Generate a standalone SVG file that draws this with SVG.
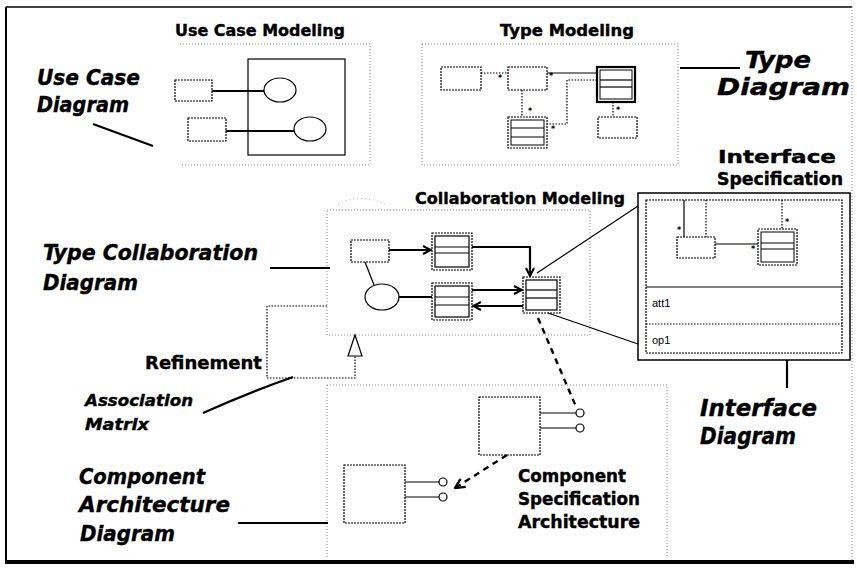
<svg xmlns="http://www.w3.org/2000/svg" width="857" height="569" viewBox="0 0 857 569">
  <style>
    .lbl { font-family: "DejaVu Sans", "Liberation Sans", sans-serif; font-weight: bold; fill: #000; stroke: #000; stroke-width: 0.4; }
    .it { font-style: italic; }
    .small { font-family: "Liberation Sans", sans-serif; font-size: 11px; fill: #000; }
    .frame { fill: none; stroke: #888; stroke-width: 1; stroke-dasharray: 1 2; }
    .box { fill: #fff; stroke: #000; stroke-width: 1.2; }
    .dbox { fill: #fff; stroke: #000; stroke-width: 1.2; stroke-dasharray: 2 1; }
    .wire { fill: none; stroke: #000; stroke-width: 1.2; }
    .thick { fill: none; stroke: #000; stroke-width: 2.2; }
    .dotw { fill: none; stroke: #000; stroke-width: 1.2; stroke-dasharray: 1.5 1.5; }
    .dash { fill: none; stroke: #000; stroke-width: 2.4; stroke-dasharray: 6 5; }
    .lead { fill: none; stroke: #000; stroke-width: 2.2; }
    .thin { fill: none; stroke: #000; stroke-width: 1; }
    .star { font-family: "DejaVu Sans", sans-serif; font-size: 8px; font-weight: bold; fill: #000; }
  </style>
  <defs>
    <marker id="vhead" viewBox="0 0 10 10" refX="9" refY="5" markerWidth="10" markerHeight="10" markerUnits="userSpaceOnUse" orient="auto">
      <path d="M1,1 L9,5 L1,9" fill="none" stroke="#000" stroke-width="2"/>
    </marker>
    <marker id="vhead2" viewBox="0 0 10 10" refX="9" refY="5" markerWidth="12" markerHeight="12" markerUnits="userSpaceOnUse" orient="auto">
      <path d="M1,1 L9,5 L1,9" fill="none" stroke="#000" stroke-width="2"/>
    </marker>
  </defs>

  <rect width="857" height="569" fill="#fff"/>

  <!-- page border -->
  <g id="page-border">
    <line x1="6" y1="7" x2="852" y2="7" stroke="#000" stroke-width="1.5"/>
    <line x1="6" y1="7" x2="6" y2="564" stroke="#000" stroke-width="2"/>
    <line x1="6" y1="562" x2="854" y2="562" stroke="#000" stroke-width="4"/>
    <line x1="852" y1="7" x2="852" y2="562" class="frame"/>
  </g>

  <!-- Use Case Modeling -->
  <g id="use-case-modeling">
    <text class="lbl" x="260" y="36" font-size="16" text-anchor="middle" textLength="170" lengthAdjust="spacingAndGlyphs">Use Case Modeling</text>
    <path class="frame" d="M180,44 H370 V165 H180"/>
    <rect class="box" x="248" y="59" width="97" height="96"/>
    <rect class="dbox" x="175" y="80" width="37" height="21"/>
    <rect class="dbox" x="188" y="118" width="38" height="23"/>
    <ellipse class="box" cx="280" cy="90" rx="16" ry="12"/>
    <ellipse class="box" cx="310" cy="129" rx="16" ry="12"/>
    <line class="thick" x1="212" y1="91" x2="264" y2="91"/>
    <line class="thick" x1="226" y1="131" x2="294" y2="131"/>
  </g>

  <!-- Type Modeling -->
  <g id="type-modeling">
    <text class="lbl" x="567" y="36" font-size="16" text-anchor="middle" textLength="134" lengthAdjust="spacingAndGlyphs">Type Modeling</text>
    <path class="frame" d="M422,44 H678 V165 H422 Z"/>
    <rect class="dbox" x="441" y="67" width="40" height="23"/>
    <rect class="dbox" x="508" y="67" width="39" height="23"/>
    <line class="dotw" x1="481" y1="73" x2="508" y2="73"/>
    <text class="star" x="498" y="81">*</text>
    <line class="wire" x1="547" y1="73" x2="597" y2="73"/>
    <text class="star" x="549" y="79">*</text>
    <rect x="597" y="67" width="38" height="35" fill="#fff" stroke="#000" stroke-width="2.2"/>
    <rect class="thin" x="600" y="70" width="32" height="29"/>
    <line class="wire" x1="600" y1="80" x2="632" y2="80"/>
    <line class="wire" x1="600" y1="87" x2="632" y2="87"/>
    <path class="dotw" d="M597,80 H567 V124 H547"/>
    <text class="star" x="551" y="132">*</text>
    <rect class="dbox" x="508" y="117" width="39" height="31"/>
    <rect class="thin" x="511" y="120" width="33" height="25"/>
    <line class="wire" x1="511" y1="128" x2="544" y2="128"/>
    <line class="wire" x1="511" y1="137" x2="544" y2="137"/>
    <line class="dotw" x1="522" y1="90" x2="522" y2="117"/>
    <text class="star" x="528" y="114">*</text>
    <rect class="dbox" x="598" y="117" width="39" height="21"/>
    <line class="dotw" x1="613" y1="102" x2="613" y2="117"/>
    <text class="star" x="616" y="113">*</text>
  </g>

  <!-- Collaboration Modeling -->
  <g id="collaboration-modeling">
    <text class="lbl" x="520" y="204" font-size="16" text-anchor="middle" textLength="210" lengthAdjust="spacingAndGlyphs">Collaboration Modeling</text>
    <path class="frame" d="M327,210 H590 V335 H327 Z"/>
    <path d="M338,204 Q360,193 385,204" fill="none" stroke="#aaa" stroke-width="1" stroke-dasharray="1 3"/>
    <rect class="dbox" x="351" y="240" width="38" height="22"/>
    <ellipse class="box" cx="382" cy="297" rx="17" ry="13"/>
    <rect class="dbox" x="432" y="233" width="40" height="37"/>
    <rect class="box" x="435" y="236" width="34" height="31"/>
    <line class="wire" x1="435" y1="247" x2="469" y2="247"/>
    <line class="wire" x1="435" y1="253" x2="469" y2="253"/>
    <rect class="dbox" x="432" y="283" width="40" height="37"/>
    <rect class="box" x="435" y="286" width="34" height="31"/>
    <line class="wire" x1="435" y1="297" x2="469" y2="297"/>
    <line class="wire" x1="435" y1="305" x2="469" y2="305"/>
    <rect class="dbox" x="523" y="277" width="37" height="36"/>
    <rect class="box" x="526" y="280" width="31" height="30"/>
    <line class="wire" x1="526" y1="290" x2="557" y2="290"/>
    <line class="wire" x1="526" y1="298" x2="557" y2="298"/>
  </g>

  <!-- Interface Specification -->
  <g id="interface-specification">
    <text class="lbl" x="777" y="163" font-size="17" text-anchor="middle" textLength="118" lengthAdjust="spacingAndGlyphs">Interface</text>
    <text class="lbl" x="780" y="185" font-size="17" text-anchor="middle" textLength="126" lengthAdjust="spacingAndGlyphs">Specification</text>
    <rect x="638" y="193" width="212" height="167" fill="#fff" stroke="#000" stroke-width="1.5"/>
    <rect class="dbox" x="646" y="200" width="196" height="153" fill="none"/>
    <line class="wire" x1="646" y1="287" x2="842" y2="287"/>
    <line class="dotw" x1="646" y1="324" x2="842" y2="324"/>
    <text class="small" x="652" y="307">att1</text>
    <text class="small" x="652" y="344">op1</text>
    <rect class="dbox" x="677" y="237" width="38" height="21"/>
    <line class="wire" x1="684" y1="200" x2="684" y2="237"/>
    <line class="dotw" x1="706" y1="200" x2="706" y2="237"/>
    <text class="star" x="677" y="233">*</text>
    <line class="wire" x1="715" y1="244" x2="758" y2="244"/>
    <text class="star" x="751" y="252">*</text>
    <rect class="dbox" x="758" y="229" width="39" height="36"/>
    <rect class="thin" x="761" y="232" width="33" height="30"/>
    <line class="wire" x1="761" y1="243" x2="794" y2="243"/>
    <line class="wire" x1="761" y1="249" x2="794" y2="249"/>
    <line class="dotw" x1="782" y1="200" x2="782" y2="229"/>
    <text class="star" x="785" y="225">*</text>
  </g>

  <!-- Component Specification Architecture -->
  <g id="component-specification">
    <path class="frame" d="M327,385 H667 V557 M327,385 V558"/>
    <rect class="dbox" x="479" y="397" width="61" height="58"/>
    <line class="wire" x1="540" y1="413" x2="576" y2="413"/>
    <line class="wire" x1="540" y1="428" x2="576" y2="428"/>
    <circle class="box" cx="580" cy="413" r="4"/>
    <circle class="box" cx="580" cy="428" r="4"/>
    <rect class="dbox" x="344" y="465" width="61" height="58"/>
    <line class="wire" x1="405" y1="482" x2="439" y2="482"/>
    <line class="wire" x1="405" y1="497" x2="439" y2="497"/>
    <circle class="box" cx="443" cy="482" r="4"/>
    <circle class="box" cx="443" cy="497" r="4"/>
    <text class="lbl" x="518" y="482" font-size="17" textLength="108" lengthAdjust="spacingAndGlyphs">Component</text>
    <text class="lbl" x="518" y="505" font-size="17" textLength="122" lengthAdjust="spacingAndGlyphs">Specification</text>
    <text class="lbl" x="518" y="528" font-size="17" textLength="122" lengthAdjust="spacingAndGlyphs">Architecture</text>
  </g>

  <!-- Refinement -->
  <g id="refinement">
    <path class="dotw" d="M327,306 H267 V378 H355 V356"/>
    <path d="M355,335 L362,356 L348,356 Z" fill="#fff" stroke="#000" stroke-width="1.2"/>
    <text class="lbl" x="145" y="369" font-size="18" textLength="117" lengthAdjust="spacingAndGlyphs">Refinement</text>
  </g>

  <!-- side labels -->
  <g id="label-use-case-diagram">
    <text class="lbl it" x="37" y="85" font-size="22" textLength="103" lengthAdjust="spacingAndGlyphs">Use Case</text>
    <text class="lbl it" x="37" y="112" font-size="22" textLength="92" lengthAdjust="spacingAndGlyphs">Diagram</text>
  </g>
  <g id="label-type-diagram">
    <text class="lbl it" x="745" y="68" font-size="23" textLength="66" lengthAdjust="spacingAndGlyphs">Type</text>
    <text class="lbl it" x="717" y="95" font-size="23" textLength="133" lengthAdjust="spacingAndGlyphs">Diagram</text>
  </g>
  <g id="label-type-collaboration-diagram">
    <text class="lbl it" x="43" y="260" font-size="22" textLength="215" lengthAdjust="spacingAndGlyphs">Type Collaboration</text>
    <text class="lbl it" x="43" y="290" font-size="22" textLength="95" lengthAdjust="spacingAndGlyphs">Diagram</text>
  </g>
  <g id="label-association-matrix">
    <text class="lbl it" x="85" y="406" font-size="16" textLength="108" lengthAdjust="spacingAndGlyphs">Association</text>
    <text class="lbl it" x="85" y="430" font-size="16" textLength="64" lengthAdjust="spacingAndGlyphs">Matrix</text>
  </g>
  <g id="label-interface-diagram">
    <text class="lbl it" x="700" y="416" font-size="23" textLength="117" lengthAdjust="spacingAndGlyphs">Interface</text>
    <text class="lbl it" x="700" y="444" font-size="23" textLength="96" lengthAdjust="spacingAndGlyphs">Diagram</text>
  </g>
  <g id="label-component-architecture-diagram">
    <text class="lbl it" x="79" y="484" font-size="22" textLength="126" lengthAdjust="spacingAndGlyphs">Component</text>
    <text class="lbl it" x="79" y="512" font-size="22" textLength="151" lengthAdjust="spacingAndGlyphs">Architecture</text>
    <text class="lbl it" x="80" y="541" font-size="22" textLength="95" lengthAdjust="spacingAndGlyphs">Diagram</text>
  </g>

  <!-- connectors -->
  <g id="connectors">
    <!-- label leaders -->
    <line class="lead" x1="93" y1="124" x2="153" y2="146"/>
    <line class="lead" x1="680" y1="68" x2="740" y2="68"/>
    <line class="lead" x1="270" y1="268" x2="330" y2="268"/>
    <path class="lead" d="M203,413 Q250,392 293,377"/>
    <line class="lead" x1="787" y1="360" x2="787" y2="388"/>
    <line class="lead" x1="238" y1="523" x2="328" y2="523"/>
    <!-- collaboration links -->
    <line class="thick" x1="389" y1="250" x2="431" y2="250" marker-end="url(#vhead)"/>
    <path class="thick" d="M472,247 H530 V276" marker-end="url(#vhead)"/>
    <line class="wire" x1="365" y1="262" x2="374" y2="285"/>
    <line class="thick" x1="399" y1="297" x2="432" y2="297"/>
    <line class="thick" x1="472" y1="290" x2="522" y2="290" marker-end="url(#vhead)"/>
    <line class="thick" x1="523" y1="306" x2="473" y2="306" marker-end="url(#vhead)"/>
    <!-- zoom lines to the interface box -->
    <line class="wire" x1="537" y1="273" x2="638" y2="206"/>
    <line class="wire" x1="548" y1="313" x2="638" y2="344"/>
    <!-- realization dashes -->
    <line class="dash" x1="538" y1="318" x2="577" y2="409"/>
    <line class="dash" x1="507" y1="455" x2="455" y2="488" marker-end="url(#vhead2)"/>
  </g>
</svg>
